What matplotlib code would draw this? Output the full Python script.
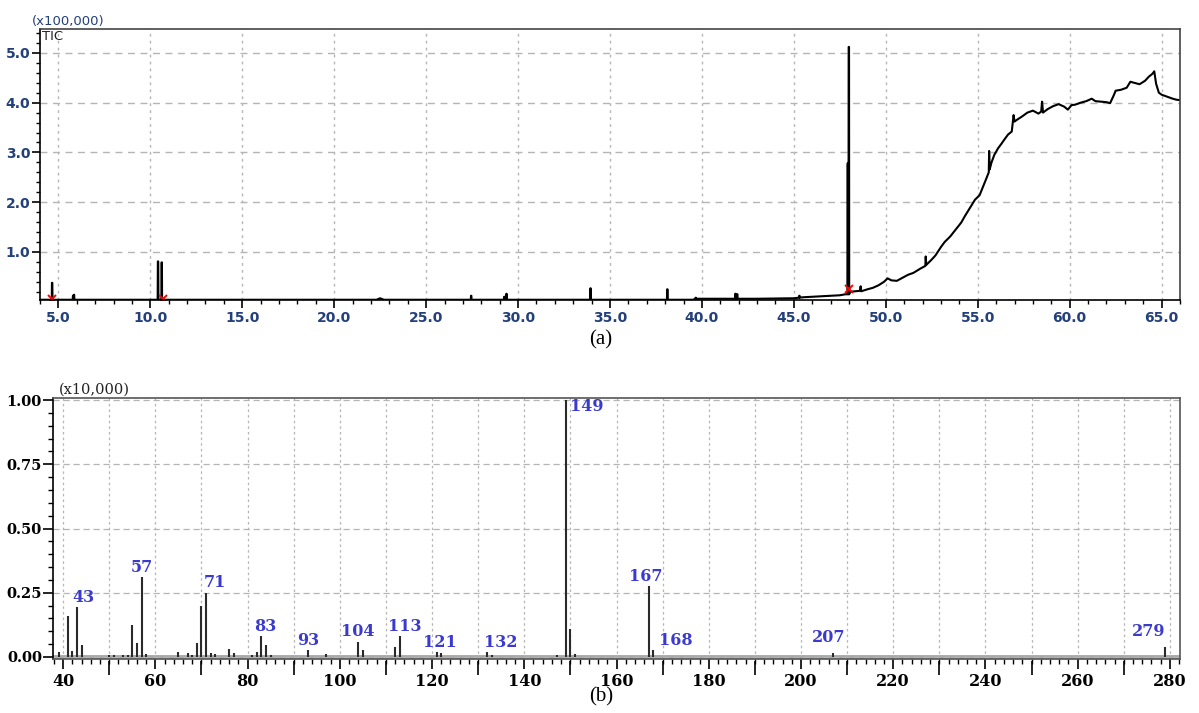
import matplotlib.pyplot as plt
import numpy as np
from matplotlib.ticker import MultipleLocator

# ---- (a) TIC chromatogram, intensity in x100,000 ----
# flat baseline segments of the run (time, intensity)
base_t = [4.0, 10.0, 20.0, 22.3, 22.5, 22.7, 30.0, 39.5, 39.7, 41.0, 43.0, 45.0, 45.5, 46.5, 47.5, 47.8]
base_y = [0.04, 0.04, 0.04, 0.04, 0.07, 0.04, 0.04, 0.04, 0.06, 0.06, 0.06, 0.07, 0.09, 0.11, 0.13, 0.15]

# narrow peaks sitting on the baseline
peak_t = [4.66, 5.80, 5.85, 10.42, 10.62, 27.45, 29.25, 29.37, 33.94, 38.12, 39.66,
          41.82, 41.92, 45.30, 47.93, 47.99]
peak_y = [0.38, 0.12, 0.14, 0.81, 0.79, 0.12, 0.10, 0.16, 0.27, 0.25, 0.08,
          0.16, 0.15, 0.12, 2.78, 5.12]

# column bleed / late eluting hump after 48 min
hump_t = [48.05, 48.3, 48.6, 48.63, 48.66, 49.0, 49.3, 49.6, 49.9, 50.1, 50.3, 50.6, 50.9,
          51.2, 51.5, 51.9, 52.15, 52.17, 52.2, 52.45, 52.7, 53.0, 53.2, 53.5, 53.8, 54.1,
          54.3, 54.6, 54.85, 55.1, 55.3, 55.45, 55.6, 55.62, 55.65, 55.75, 55.9, 56.1, 56.3,
          56.45, 56.65, 56.85, 56.95, 57.0, 57.15, 57.4, 57.7, 58.0, 58.3, 58.45, 58.5,
          58.55, 58.8, 59.1, 59.4, 59.7, 59.9, 60.1, 60.3, 60.6, 60.9, 61.2, 61.4, 61.7,
          62.0, 62.2, 62.4, 62.5, 62.8, 63.1, 63.3, 63.5, 63.8, 64.1, 64.3, 64.5, 64.6,
          64.7, 64.85, 65.0, 65.3, 65.6, 65.8, 66.0]
hump_y = [0.20, 0.21, 0.22, 0.31, 0.21, 0.25, 0.28, 0.33, 0.40, 0.47, 0.43, 0.42, 0.48,
          0.54, 0.58, 0.67, 0.72, 0.91, 0.74, 0.83, 0.93, 1.10, 1.20, 1.31, 1.45, 1.59,
          1.72, 1.90, 2.05, 2.14, 2.32, 2.46, 2.60, 3.03, 2.66, 2.80, 2.95, 3.08, 3.18,
          3.26, 3.36, 3.42, 3.75, 3.62, 3.66, 3.72, 3.80, 3.84, 3.78, 3.82, 4.02, 3.80,
          3.87, 3.93, 3.97, 3.92, 3.86, 3.95, 3.96, 4.00, 4.03, 4.08, 4.03, 4.02, 4.01,
          3.99, 4.15, 4.24, 4.26, 4.30, 4.42, 4.40, 4.37, 4.44, 4.52, 4.58, 4.63, 4.38,
          4.20, 4.16, 4.12, 4.08, 4.06, 4.05]

# integration markers
mark_t = [4.66, 10.70, 47.98]
mark_y = [0.05, 0.06, 0.25]

# ---- (b) mass spectrum, intensity in x10,000 ----
mz = [39, 41, 42, 43, 44, 50, 51, 53, 54, 55, 56, 57, 58, 65, 67, 68, 69, 70, 71, 72, 73,
      76, 77, 81, 82, 83, 84, 85, 93, 97, 104, 105, 112, 113, 121, 122, 132, 133, 147,
      149, 150, 151, 167, 168, 207, 279]
inten = [0.020, 0.160, 0.025, 0.193, 0.047, 0.007, 0.007, 0.007, 0.007, 0.125, 0.056,
         0.310, 0.013, 0.018, 0.015, 0.007, 0.053, 0.200, 0.250, 0.015, 0.012, 0.032,
         0.015, 0.006, 0.020, 0.082, 0.047, 0.006, 0.026, 0.010, 0.060, 0.026, 0.040,
         0.082, 0.020, 0.017, 0.020, 0.006, 0.006, 1.000, 0.110, 0.013, 0.277, 0.026,
         0.017, 0.040]
labeled_mz = [43, 57, 71, 83, 93, 104, 113, 121, 132, 149, 167, 168, 207, 279]

# label nudges (m/z units) so the numbers clear the neighbouring lines
label_dx = {43: 1.4, 57: 0.1, 71: 1.9, 83: 0.8, 93: 0.1, 104: -0.2, 113: 1.1,
            121: 0.8, 132: 2.8, 149: 0.9, 167: -0.7, 168: 4.9, 207: -1.1, 279: -3.5}
label_dy = {207: 0.06, 279: 0.058}

tick_blue = '#24407a'
ax_col = '#444444'
grid_col = '#b5b5b5'


def build_trace():
    """Merge baseline, sharp peaks and the late hump into one polyline."""
    t = list(base_t)
    y = list(base_y)
    for pt, ph in zip(peak_t, peak_y):
        b = np.interp(pt, base_t, base_y)
        t += [pt - 0.02, pt - 0.01, pt + 0.01, pt + 0.02]
        y += [b, ph, ph, b]
    order = np.argsort(t)
    t = np.array(t)[order]
    y = np.array(y)[order]
    return np.concatenate([t, hump_t]), np.concatenate([y, hump_y])


fig = plt.figure(figsize=(11.99, 7.13), dpi=100)

# ---------------- (a) ----------------
ax1 = fig.add_axes([40 / 1199, 1 - 300 / 713, 1140 / 1199, 271 / 713])
tt, yy = build_trace()
ax1.plot(tt, yy, color='black', lw=1.5)
ax1.plot(mark_t, mark_y, 'x', color='red', ms=6, mew=1.4)

ax1.set_xlim(4.0, 66.0)
ax1.set_ylim(0.035, 5.48)
ax1.xaxis.set_major_locator(MultipleLocator(5))
ax1.xaxis.set_minor_locator(MultipleLocator(1))
ax1.set_yticks([1, 2, 3, 4, 5])
ax1.yaxis.set_minor_locator(MultipleLocator(0.2))
ax1.xaxis.set_major_formatter(plt.FuncFormatter(lambda v, p: f'{v:.1f}'))
ax1.yaxis.set_major_formatter(plt.FuncFormatter(lambda v, p: f'{v:.1f}'))
ax1.tick_params(axis='both', which='major', direction='out', length=6, width=1.2,
                colors='black', labelcolor=tick_blue, labelsize=10)
ax1.tick_params(axis='both', which='minor', direction='out', length=3, width=1.0)
ax1.tick_params(axis='x', pad=2)
ax1.tick_params(axis='y', pad=1)
for lab in ax1.get_xticklabels() + ax1.get_yticklabels():
    lab.set_fontweight('bold')
ax1.grid(axis='x', which='major', color=grid_col, ls=(0, (2, 3)), lw=1.0)
ax1.grid(axis='y', which='major', color=grid_col, ls=(0, (5, 4)), lw=1.0)
for s in ax1.spines.values():
    s.set_color(ax_col)
    s.set_linewidth(1.2)
ax1.spines['bottom'].set_color('black')
ax1.spines['left'].set_color('black')
ax1.text(-0.007, 1.005, '(x100,000)', transform=ax1.transAxes, ha='left', va='bottom',
         fontsize=9.5, color=tick_blue)
ax1.text(0.002, 0.995, 'TIC', transform=ax1.transAxes, ha='left', va='top',
         fontsize=9.5, color='#222222')
fig.text(601 / 1199, 1 - 340 / 713, '(a)', ha='center', va='center',
         fontsize=15, family='Liberation Serif')

# ---------------- (b) ----------------
ax2 = fig.add_axes([53 / 1199, 1 - 659 / 713, 1127 / 1199, 261 / 713])
ax2.axhline(0, color='#a8a8a8', lw=3.5, zorder=1)
ax2.vlines(mz, 0, inten, color='#2a2a2a', lw=1.5, zorder=3)
for m in labeled_mz:
    h = inten[mz.index(m)]
    if m == 149:
        ax2.text(m + label_dx[m], 0.975, str(m), ha='left', va='center',
                 fontsize=11.5, fontweight='bold', family='DejaVu Serif', color='#3a3acf')
    else:
        ax2.text(m + label_dx[m], h + label_dy.get(m, 0.038), str(m), ha='center',
                 va='center', fontsize=11.5, fontweight='bold', family='DejaVu Serif',
                 color='#3a3acf')

ax2.set_xlim(37.8, 282.2)
ax2.set_ylim(-0.008, 1.008)
ax2.set_xticks(np.arange(40, 281, 20))
ax2.xaxis.set_minor_locator(MultipleLocator(2))
ax2.set_yticks([0, 0.25, 0.5, 0.75, 1.0])
ax2.yaxis.set_minor_locator(MultipleLocator(0.05))
ax2.yaxis.set_major_formatter(plt.FuncFormatter(lambda v, p: f'{v:.2f}'))
ax2.tick_params(axis='both', which='major', direction='out', length=7, width=1.2,
                colors='black', labelsize=11.5)
ax2.tick_params(axis='y', labelsize=10.5)
ax2.tick_params(axis='both', which='minor', direction='out', length=3.5, width=1.0)
ax2.tick_params(axis='x', pad=3)
ax2.tick_params(axis='y', pad=1)
for lab in ax2.get_xticklabels() + ax2.get_yticklabels():
    lab.set_fontweight('bold')
    lab.set_family('DejaVu Serif')
# grid every 10 along m/z, with long ticks at the unlabelled tens
for x in np.arange(40, 281, 10):
    ax2.axvline(x, color=grid_col, ls=(0, (2, 2.5)), lw=0.9, zorder=0)
ax2.vlines(np.arange(50, 281, 20), -0.06, -0.008, color='black', lw=1.2,
           transform=ax2.get_xaxis_transform(), clip_on=False)
ax2.grid(axis='y', which='major', color=grid_col, ls=(0, (5, 3)), lw=0.9)
for s in ax2.spines.values():
    s.set_color('#555555')
    s.set_linewidth(1.2)
ax2.spines['left'].set_color('black')
ax2.text(0.005, 1.005, '(x10,000)', transform=ax2.transAxes, ha='left', va='bottom',
         fontsize=10.5, family='DejaVu Serif', color='#222222')
fig.text(601 / 1199, 1 - 697 / 713, '(b)', ha='center', va='center',
         fontsize=15, family='Liberation Serif')

fig.savefig('out.png', dpi=100)
